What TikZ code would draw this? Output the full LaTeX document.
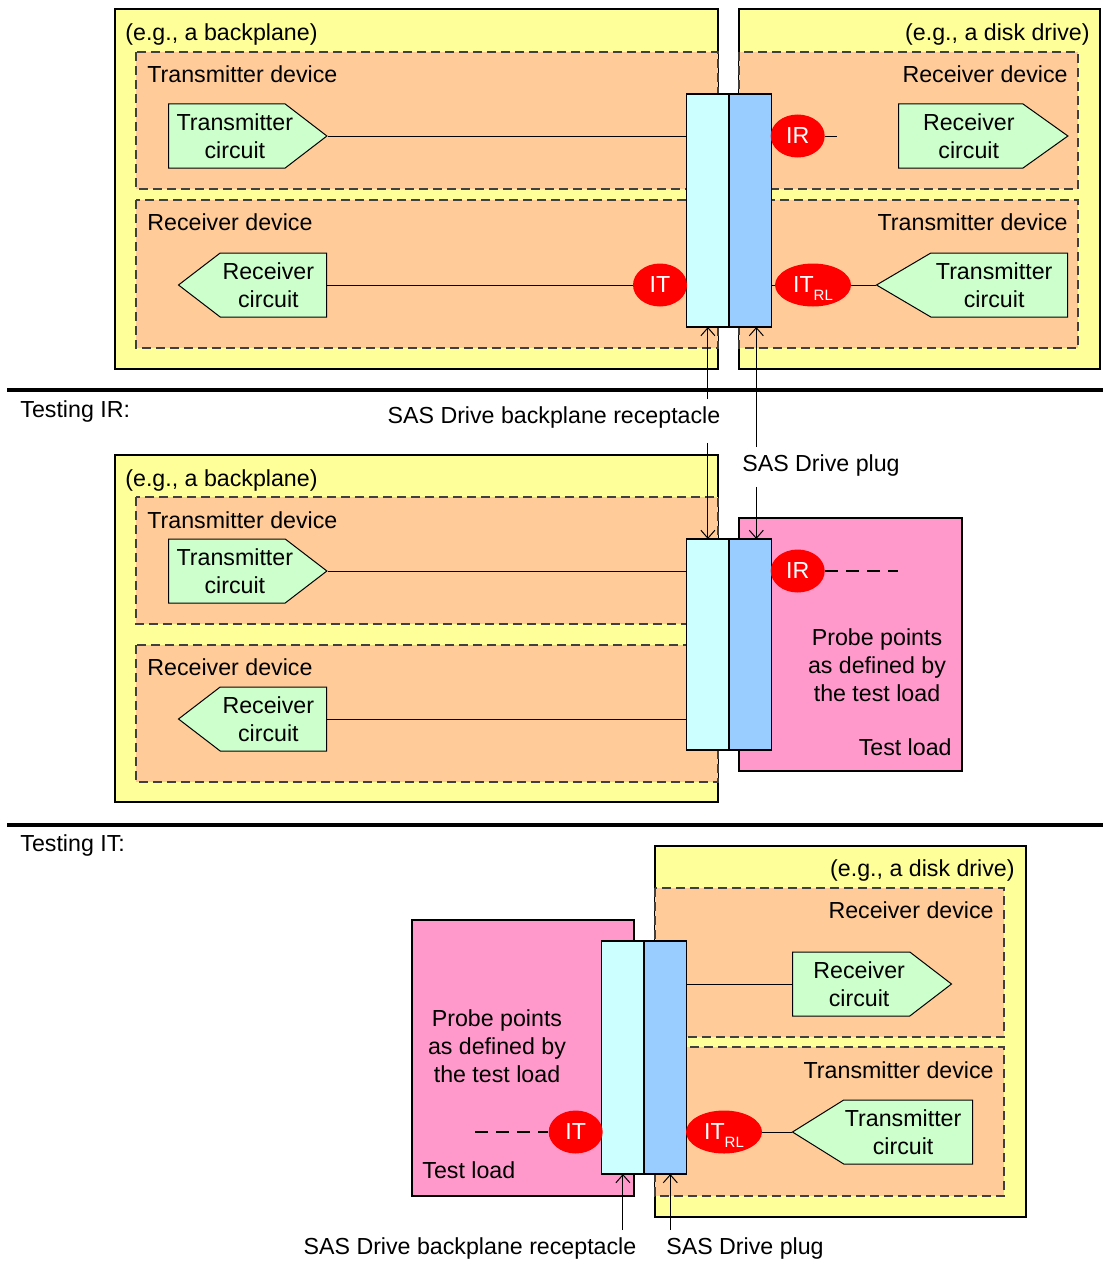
\documentclass[tikz,border=0pt]{standalone}
\usepackage{fontspec}
\setmainfont{Liberation Sans}
\usetikzlibrary{shapes.symbols, shapes.geometric, positioning, arrows.meta}
\definecolor{board}{RGB}{255,255,153}
\definecolor{device}{RGB}{255,204,153}
\definecolor{circ}{RGB}{204,255,204}
\definecolor{recept}{RGB}{204,255,255}
\definecolor{plug}{RGB}{153,204,255}
\definecolor{testload}{RGB}{255,153,204}
\definecolor{probe}{RGB}{255,0,0}
\newcommand{\rlsub}{\smash{\raisebox{-4pt}{\fontsize{7.5}{8}\selectfont RL}}}

\begin{document}
\begin{tikzpicture}[x=0.5pt, y=-0.5pt, font=\fontsize{11.6}{14}\selectfont,
  board/.style={draw, fill=board, line width=0.7pt},
  dev/.style={draw=black!75, fill=device, line width=0.7pt, dash pattern=on 4.5pt off 2.5pt},
  load/.style={draw, fill=testload, line width=0.7pt},
  circuit/.style={signal, draw, fill=circ, line width=0.5pt, inner sep=0pt, minimum height=32pt, signal pointer angle=75},
  txt east/.style={label={[align=center, xshift=4pt]center:#1}},
  txt west/.style={label={[align=center, xshift=-2.5pt]center:#1}},
  rcpt/.style={draw, fill=recept, line width=0.7pt, minimum width=21.2pt, inner sep=0pt, outer sep=0pt},
  plg/.style={draw, fill=plug, line width=0.7pt, minimum width=21.2pt, inner sep=0pt, outer sep=0pt},
  probe/.style={ellipse, fill=probe, text=white, inner sep=0pt, minimum height=21.5pt, minimum width=27pt},
  arr/.style={-{Straight Barb[length=4pt,width=7pt]}, line width=0.5pt},
  probeline/.style={line width=0.6pt, dash pattern=on 6.5pt off 4pt},
  sep/.style={line width=2pt}]
\useasboundingbox (0,0) rectangle (1103,1263);

% top: backplane and disk drive
\draw[board] (115,9) rectangle (718,369);
\draw[board] (739,9) rectangle (1100,369);
\draw[dev] (136,52) rectangle (718,189);
\draw[dev] (136,200) rectangle (718,348);
\draw[dev] (739,52) rectangle (1078,189);
\draw[dev] (739,200) rectangle (1078,348);
\node[anchor=west, inner sep=0pt] (bp1) at (125,34.5) {(e.g., a backplane)};
\node[anchor=east, inner sep=0pt] (dd1) at (1090,34.5) {(e.g., a disk drive)};
\node[anchor=west, inner sep=0pt] (txd1) at (147,74) {Transmitter device};
\node[anchor=east, inner sep=0pt] (rxd1) at (1068,74) {Receiver device};
\node[anchor=west, inner sep=0pt] (rxd2) at (147,222) {Receiver device};
\node[anchor=east, inner sep=0pt] (txd2) at (1068,222) {Transmitter device};
\node[rcpt, minimum height=116.5pt, anchor=north west] (rc1) at (686.7,94) {};
\node[plg, minimum height=116.5pt, right=0pt of rc1] (pl1) {};
\node[circuit, signal to=east, minimum width=79.2pt, anchor=west, txt east={Transmitter\\circuit}] (tx1) at (168,136) {};
\node[circuit, signal to=west, minimum width=74pt, anchor=east, txt west={Receiver\\circuit}] (rx1) at (327,285) {};
\node[circuit, signal to=east, signal pointer angle=71, minimum width=84.7pt, anchor=west, txt east={Receiver\\circuit}] (rx2) at (898,136) {};
\node[circuit, signal to=west, signal pointer angle=61, minimum width=95.5pt, anchor=east, txt west={Transmitter\\circuit}] (tx2) at (1068,285) {};
\node[probe] (ir1) at (797.7,136) {IR};
\node[probe] (it1) at (660,285) {IT};
\node[probe, minimum width=38pt] (itrl1) at (813,285) {IT\rlsub};
\coordinate (ir1end) at (837,136);
\draw (tx1.east) -- (tx1.east -| rc1.west);
\draw (ir1.east) -- (ir1end);
\draw (rx1.east) -- (it1.west);
\draw (pl1.east |- itrl1) -- (itrl1.west);
\draw (itrl1.east) -- (tx2.west);

% separators
\draw[sep] (7,390) -- (1103,390);
\draw[sep] (7,825) -- (1103,825);
\node[anchor=west, inner sep=0pt] (tir) at (20,411) {Testing IR:};
\node[anchor=west, inner sep=0pt] (tit) at (20,845) {Testing IT:};

% testing IR
\draw[board] (115,455) rectangle (718,802);
\draw[dev] (136,497) rectangle (718,624);
\draw[dev] (136,645) rectangle (718,782);
\draw[load] (739,518) rectangle (962,771);
\node[anchor=west, inner sep=0pt] (bp2) at (125,480) {(e.g., a backplane)};
\node[anchor=west, inner sep=0pt] (txd3) at (147,520) {Transmitter device};
\node[anchor=west, inner sep=0pt] (rxd3) at (147,667) {Receiver device};
\node[rcpt, minimum height=105.5pt, anchor=north west] (rc2) at (686.7,539) {};
\node[plg, minimum height=105.5pt, right=0pt of rc2] (pl2) {};
\node[circuit, signal to=east, minimum width=79.2pt, anchor=west, txt east={Transmitter\\circuit}] (tx3) at (168,571) {};
\node[circuit, signal to=west, minimum width=74pt, anchor=east, txt west={Receiver\\circuit}] (rx3) at (327,719) {};
\node[probe] (ir2) at (797.7,571) {IR};
\coordinate (ir2end) at (898,571);
\node[align=center] (pp1) at (877,665) {Probe points\\as defined by\\the test load};
\node[anchor=east, inner sep=0pt] (tl1) at (952,747) {Test load};
\draw (tx3.east) -- (tx3.east -| rc2.west);
\draw (rx3.east) -- (rx3.east -| rc2.west);
\draw[probeline] (ir2.east) -- (ir2end);

% receptacle and plug labels
\node (rcptlbl1) at (554,417) {SAS Drive backplane receptacle};
\node (plglbl1) at (821,465) {SAS Drive plug};
\draw[arr] (rcptlbl1.north -| rc1.south) -- (rc1.south);
\draw[arr] ([yshift=-4pt]rcptlbl1.south -| rc2.north) -- (rc2.north);
\draw[arr] ([xshift=3pt]plglbl1.north -| pl1.south) -- ([xshift=3pt]pl1.south);
\draw[arr] ([xshift=3pt,yshift=-2pt]plglbl1.south -| pl2.north) -- ([xshift=3pt]pl2.north);

% testing IT
\draw[board] (655,846) rectangle (1026,1217);
\draw[dev] (655,888) rectangle (1004,1037);
\draw[dev] (655,1047) rectangle (1004,1196);
\draw[load] (412,920) rectangle (634,1196);
\node[anchor=east, inner sep=0pt] (dd2) at (1015,870) {(e.g., a disk drive)};
\node[anchor=east, inner sep=0pt] (rxd4) at (994,910) {Receiver device};
\node[anchor=east, inner sep=0pt] (txd4) at (994,1070) {Transmitter device};
\node[rcpt, minimum height=116.5pt, anchor=north west] (rc3) at (601.7,941) {};
\node[plg, minimum height=116.5pt, right=0pt of rc3] (pl3) {};
\node[circuit, signal to=east, minimum width=79.5pt, anchor=west, txt east={Receiver\\circuit}] (rx4) at (792,984) {};
\node[circuit, signal to=west, signal pointer angle=64, minimum width=90pt, anchor=east, txt west={Transmitter\\circuit}] (tx4) at (973,1132) {};
\node[probe] (it3) at (575.7,1132) {IT};
\node[probe, minimum width=38pt] (itrl3) at (724,1132) {IT\rlsub};
\coordinate (it3end) at (475,1132);
\node[align=center] (pp2) at (497,1046) {Probe points\\as defined by\\the test load};
\node[anchor=west, inner sep=0pt] (tl2) at (422,1170) {Test load};
\draw (pl3.east |- rx4.west) -- (rx4.west);
\draw (itrl3.east) -- (tx4.west);
\draw[probeline] (it3end) -- (it3.west);
\node (rcptlbl2) at (470,1248) {SAS Drive backplane receptacle};
\node (plglbl2) at (745,1248) {SAS Drive plug};
\draw[arr] (rcptlbl2.north -| rc3.south) -- (rc3.south);
\draw[arr] ([xshift=2.5pt]plglbl2.north -| pl3.south) -- ([xshift=2.5pt]pl3.south);
\end{tikzpicture}
\end{document}
